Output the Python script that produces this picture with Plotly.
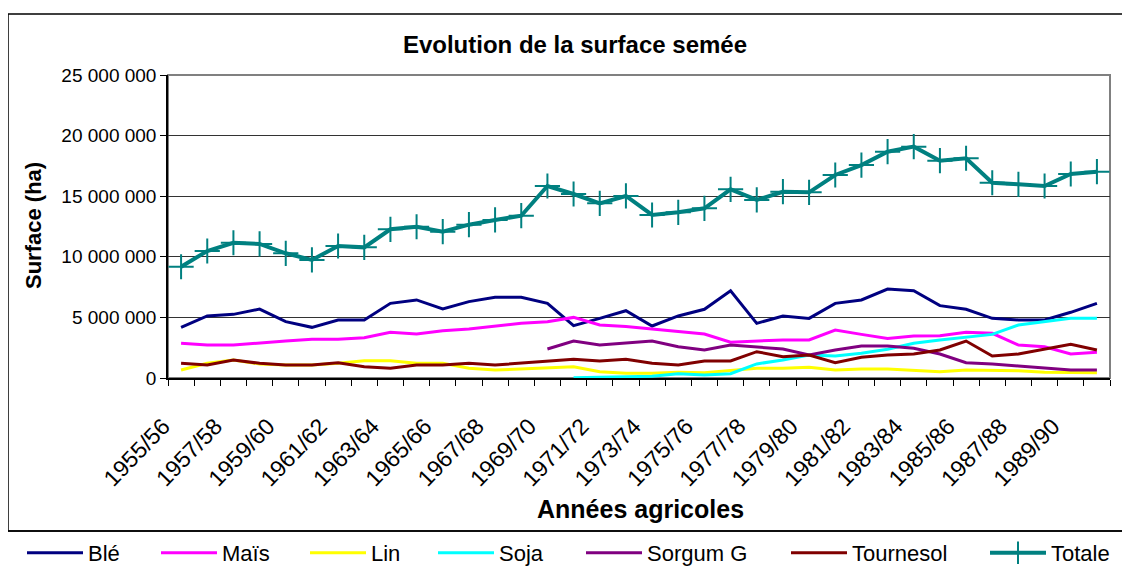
import plotly.graph_objects as go

years = ["1955/56", "1956/57", "1957/58", "1958/59", "1959/60", "1960/61", "1961/62", "1962/63",
         "1963/64", "1964/65", "1965/66", "1966/67", "1967/68", "1968/69", "1969/70", "1970/71",
         "1971/72", "1972/73", "1973/74", "1974/75", "1975/76", "1976/77", "1977/78", "1978/79",
         "1979/80", "1980/81", "1981/82", "1982/83", "1983/84", "1984/85", "1985/86", "1986/87",
         "1987/88", "1988/89", "1989/90", "1990/91"]

# values in millions of ha
ble = [4.18, 5.12, 5.25, 5.69, 4.65, 4.18, 4.79, 4.79, 6.16, 6.44, 5.69, 6.30,
       6.66, 6.66, 6.16, 4.32, 4.92, 5.55, 4.29, 5.12, 5.67, 7.20, 4.51, 5.12,
       4.92, 6.16, 6.44, 7.34, 7.20, 5.97, 5.67, 4.92, 4.79, 4.79, 5.42, 6.16]
mais = [2.86, 2.72, 2.72, 2.91, 3.05, 3.19, 3.19, 3.33, 3.77, 3.63, 3.90, 4.04,
        4.29, 4.51, 4.65, 5.00, 4.37, 4.24, 4.04, 3.82, 3.63, 2.95, 3.05, 3.14,
        3.14, 3.96, 3.60, 3.27, 3.47, 3.49, 3.77, 3.69, 2.72, 2.58, 1.98, 2.12]
lin = [0.66, 1.21, 1.49, 1.16, 1.07, 1.07, 1.21, 1.43, 1.43, 1.21, 1.21, 0.80,
       0.66, 0.74, 0.80, 0.93, 0.52, 0.39, 0.39, 0.47, 0.44, 0.60, 0.80, 0.80,
       0.88, 0.66, 0.74, 0.74, 0.66, 0.52, 0.66, 0.60, 0.60, 0.47, 0.44, 0.44]
soja = [None] * 15 + [0.02, 0.05, 0.10, 0.15, 0.35, 0.25, 0.35, 1.16, 1.49,
                      1.90, 1.82, 2.04, 2.37, 2.86, 3.14, 3.36, 3.60, 4.37, 4.65, 4.92, 4.92]
sorgum = [None] * 14 + [2.39, 3.05, 2.72, 2.91, 3.05, 2.58, 2.31, 2.72, 2.58, 2.39,
                        1.90, 2.31, 2.64, 2.64, 2.45, 1.98, 1.26, 1.16, 0.99, 0.80, 0.66, 0.66]
tournesol = [1.21, 1.07, 1.49, 1.21, 1.07, 1.07, 1.26, 0.93, 0.80, 1.07, 1.07, 1.21,
             1.07, 1.21, 1.40, 1.54, 1.40, 1.54, 1.21, 1.07, 1.40, 1.40, 2.17, 1.76,
             1.90, 1.26, 1.71, 1.90, 1.98, 2.31, 3.05, 1.82, 1.98, 2.37, 2.78, 2.31]
totale = [9.18, 10.48, 11.16, 11.06, 10.29, 9.74, 10.89, 10.78, 12.27, 12.48, 12.07, 12.65,
          13.04, 13.39, 15.84, 15.18, 14.41, 15.02, 13.45, 13.67, 14.00, 15.57, 14.69, 15.37,
          15.32, 16.75, 17.57, 18.67, 19.09, 17.93, 18.13, 16.11, 15.98, 15.84, 16.83, 17.02]

series_names = ["Blé", "Maïs", "Lin", "Soja", "Sorgum G", "Tournesol", "Totale"]
series_vals = [ble, mais, lin, soja, sorgum, tournesol, totale]
colors = ["#000080", "#FF00FF", "#FFFF00", "#00FFFF", "#800080", "#800000", "#008080"]
legend_px = [22, 156, 305, 433, 581, 786, 985]   # left page-pixel of each legend entry
y_ticks = [0, 5_000_000, 10_000_000, 15_000_000, 20_000_000, 25_000_000]

OFF = 8                      # page body margin offset
W, H = 1130 - OFF, 574 - OFF
PLOT_L, PLOT_R, PLOT_T, PLOT_B = 168, 1110, 75, 378   # page coords of plot area
L, T = PLOT_L - OFF, PLOT_T - OFF
R = W - (PLOT_R - OFF)
B = H - (PLOT_B - OFF)
PW, PH = PLOT_R - PLOT_L, PLOT_B - PLOT_T
FONT = "Arial, Liberation Sans, sans-serif"


def px(x):
    return (x - PLOT_L) / PW


def py(y):
    return (PLOT_B - y) / PH


fig = go.Figure()
for k, (name, vals, col) in enumerate(zip(series_names, series_vals, colors)):
    yv = [None if v is None else v * 1e6 for v in vals]
    leg = "legend" if k == 0 else f"legend{k + 1}"
    if name == "Totale":
        fig.add_trace(go.Scatter(x=years, y=yv, name=name, mode="lines+markers",
                                 line=dict(color=col, width=4),
                                 marker=dict(symbol="cross-thin", size=18,
                                             line=dict(width=2, color=col), color=col),
                                 legend=leg, showlegend=True))
    else:
        fig.add_trace(go.Scatter(x=years, y=yv, name=name, mode="lines",
                                 line=dict(color=col, width=3), legend=leg, showlegend=True))

legends = {}
for k, lx in enumerate(legend_px):
    key = "legend" if k == 0 else f"legend{k + 1}"
    legends[key] = dict(x=px(lx), y=py(553), xanchor="left", yanchor="middle",
                        bgcolor="rgba(0,0,0,0)", borderwidth=0, itemwidth=56,
                        font=dict(family=FONT, size=22, color="black"))

shapes = [
    # chart frame
    dict(type="rect", xref="paper", yref="paper", x0=px(8), x1=px(1128), y0=py(531), y1=py(14),
         line=dict(color="black", width=1.5), layer="below"),
    # legend frame
    dict(type="rect", xref="paper", yref="paper", x0=px(7), x1=px(1129), y0=py(600), y1=py(531),
         line=dict(color="black", width=1.5), layer="below"),
    # plot area border
    dict(type="rect", xref="paper", yref="paper", x0=0, x1=1, y0=0, y1=1,
         line=dict(color="#808080", width=2), layer="below"),
]

annotations = [
    dict(text="<b>Surface (ha)</b>", xref="paper", yref="paper", x=px(33), y=py(226),
         textangle=-90, showarrow=False, font=dict(family=FONT, size=22, color="black"),
         xanchor="center", yanchor="middle"),
    dict(text="<b>Années agricoles</b>", xref="paper", yref="paper", x=px(640), y=py(509),
         showarrow=False, font=dict(family=FONT, size=25, color="black"),
         xanchor="center", yanchor="middle"),
]

ticktext = [y if i % 2 == 0 else "" for i, y in enumerate(years)]

fig.update_layout(
    width=W, height=H,
    margin=dict(l=L, r=R, t=T, b=B, autoexpand=False),
    paper_bgcolor="white", plot_bgcolor="white",
    separators=", ",
    showlegend=True,
    title=dict(text="<b>Evolution de la surface semée</b>", x=(575 - OFF) / W,
               y=1 - (45 - OFF) / H, xanchor="center", yanchor="middle",
               font=dict(family=FONT, size=24, color="black")),
    font=dict(family=FONT, size=19, color="black"),
    shapes=shapes,
    annotations=annotations,
    **legends,
    xaxis=dict(type="category", tickmode="array", tickvals=years, ticktext=ticktext,
               tickson="boundaries", ticks="outside", ticklen=6, tickcolor="black",
               tickangle=-46, ticklabelstandoff=24, ticklabelshift=-18,
               showline=True, linecolor="black", linewidth=1.5,
               showgrid=False, range=[-0.5, len(years) - 0.5],
               tickfont=dict(family=FONT, size=23, color="black")),
    yaxis=dict(range=[0, 25_000_000], tickvals=y_ticks, tickformat=",d",
               ticks="outside", ticklen=6, tickcolor="black",
               showline=True, linecolor="black", linewidth=1.5,
               showgrid=True, gridcolor="#333333", gridwidth=1, zeroline=False,
               tickfont=dict(family=FONT, size=19, color="black")),
)

fig.write_html("out.html")
